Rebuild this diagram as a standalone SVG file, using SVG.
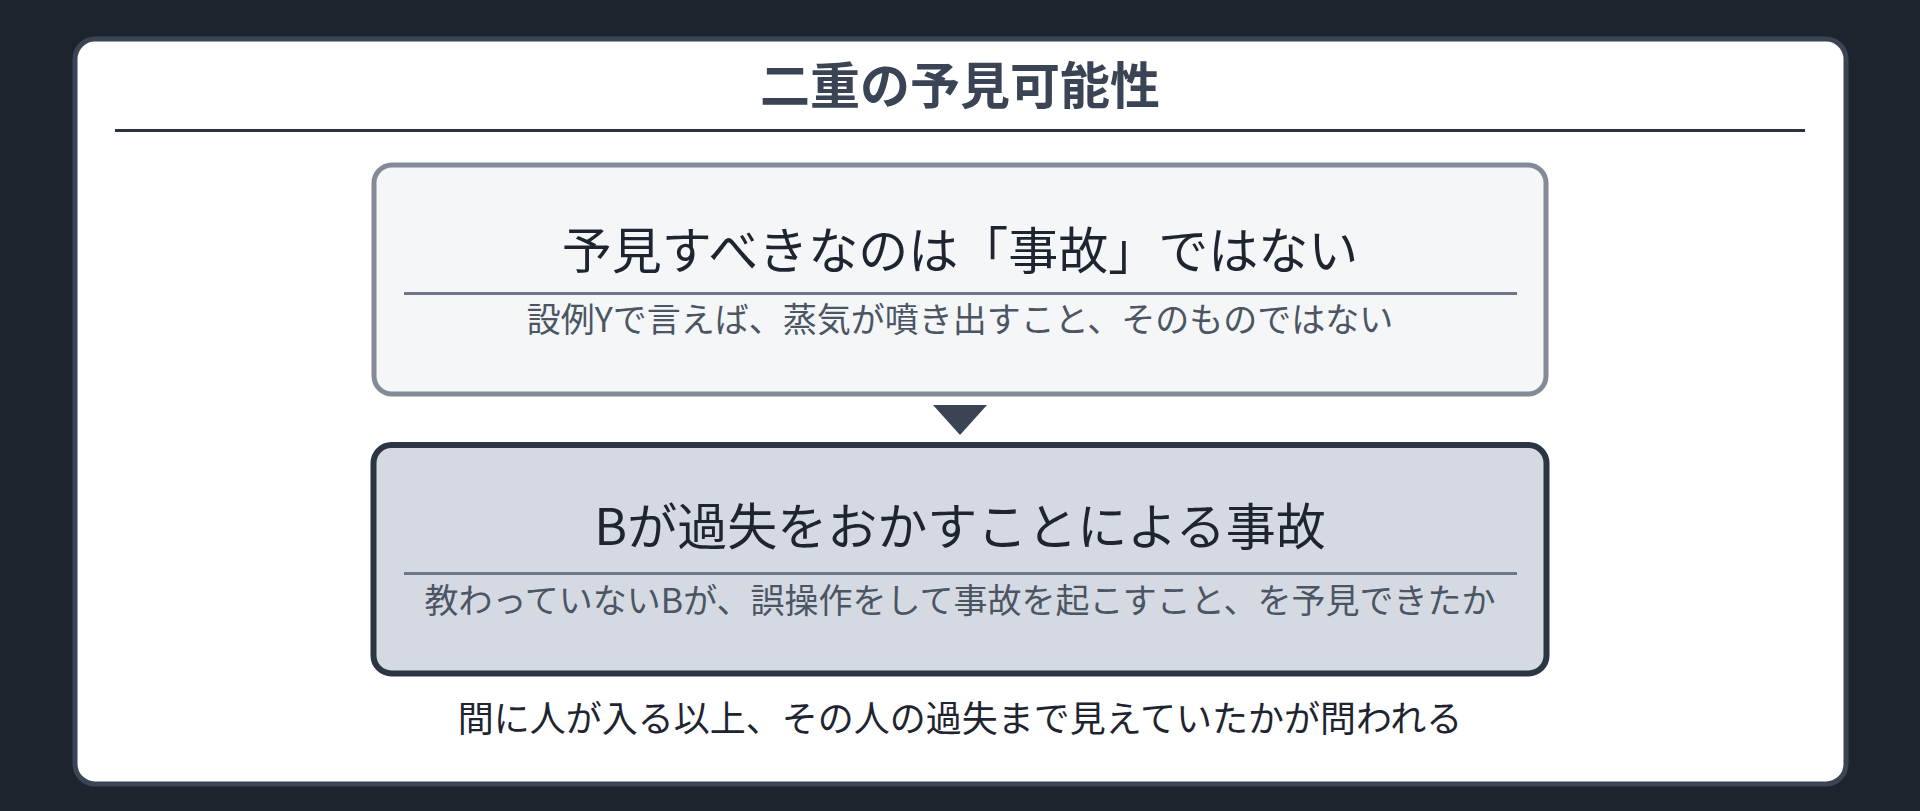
<svg xmlns="http://www.w3.org/2000/svg" width="1920" height="811" viewBox="0 0 1920 811">
  <style>
    text { font-family: "Noto Sans CJK JP", "Noto Sans", sans-serif; text-anchor: middle; }
    .title { font-size: 50px; font-weight: 700; fill: #3a4454; }
    .head { font-size: 50px; font-weight: 400; fill: #1f2530; }
    .sub { font-size: 34px; font-weight: 400; fill: #4b5563; }
    .foot { font-size: 36px; font-weight: 400; fill: #1f2530; }
    .divider { stroke: #6e7787; stroke-width: 3; }
  </style>
  <rect x="0" y="0" width="1920" height="811" fill="#1e242e"/>
  <g id="card">
    <rect x="75" y="39" width="1771" height="745" rx="20" ry="20" fill="#ffffff" stroke="#3a4454" stroke-width="5"/>
    <text class="title" x="960" y="104">二重の予見可能性</text>
    <line x1="115" y1="130.5" x2="1805" y2="130.5" stroke="#2d3440" stroke-width="3"/>
  </g>
  <g id="node-top">
    <rect x="374" y="165" width="1172" height="229" rx="18" ry="18" fill="#f4f6f8" stroke="#838b98" stroke-width="5"/>
    <text class="head" x="960" y="269">予見すべきなのは「事故」ではない</text>
    <line class="divider" x1="404" y1="293.5" x2="1517" y2="293.5"/>
    <text class="sub" x="960" y="332">設例Yで言えば、蒸気が噴き出すこと、そのものではない</text>
  </g>
  <g id="connectors">
    <polygon points="933,405 987,405 960,435" fill="#3a4454"/>
  </g>
  <g id="node-bottom">
    <rect x="373.5" y="445" width="1173" height="228.5" rx="18" ry="18" fill="#d5dae2" stroke="#2c3543" stroke-width="6"/>
    <text class="head" x="960" y="545">Bが過失をおかすことによる事故</text>
    <line class="divider" x1="404" y1="573.5" x2="1517" y2="573.5"/>
    <text class="sub" x="960" y="613">教わっていないBが、誤操作をして事故を起こすこと、を予見できたか</text>
  </g>
  <g id="footer">
    <text class="foot" x="960" y="732">間に人が入る以上、その人の過失まで見えていたかが問われる</text>
  </g>
</svg>
